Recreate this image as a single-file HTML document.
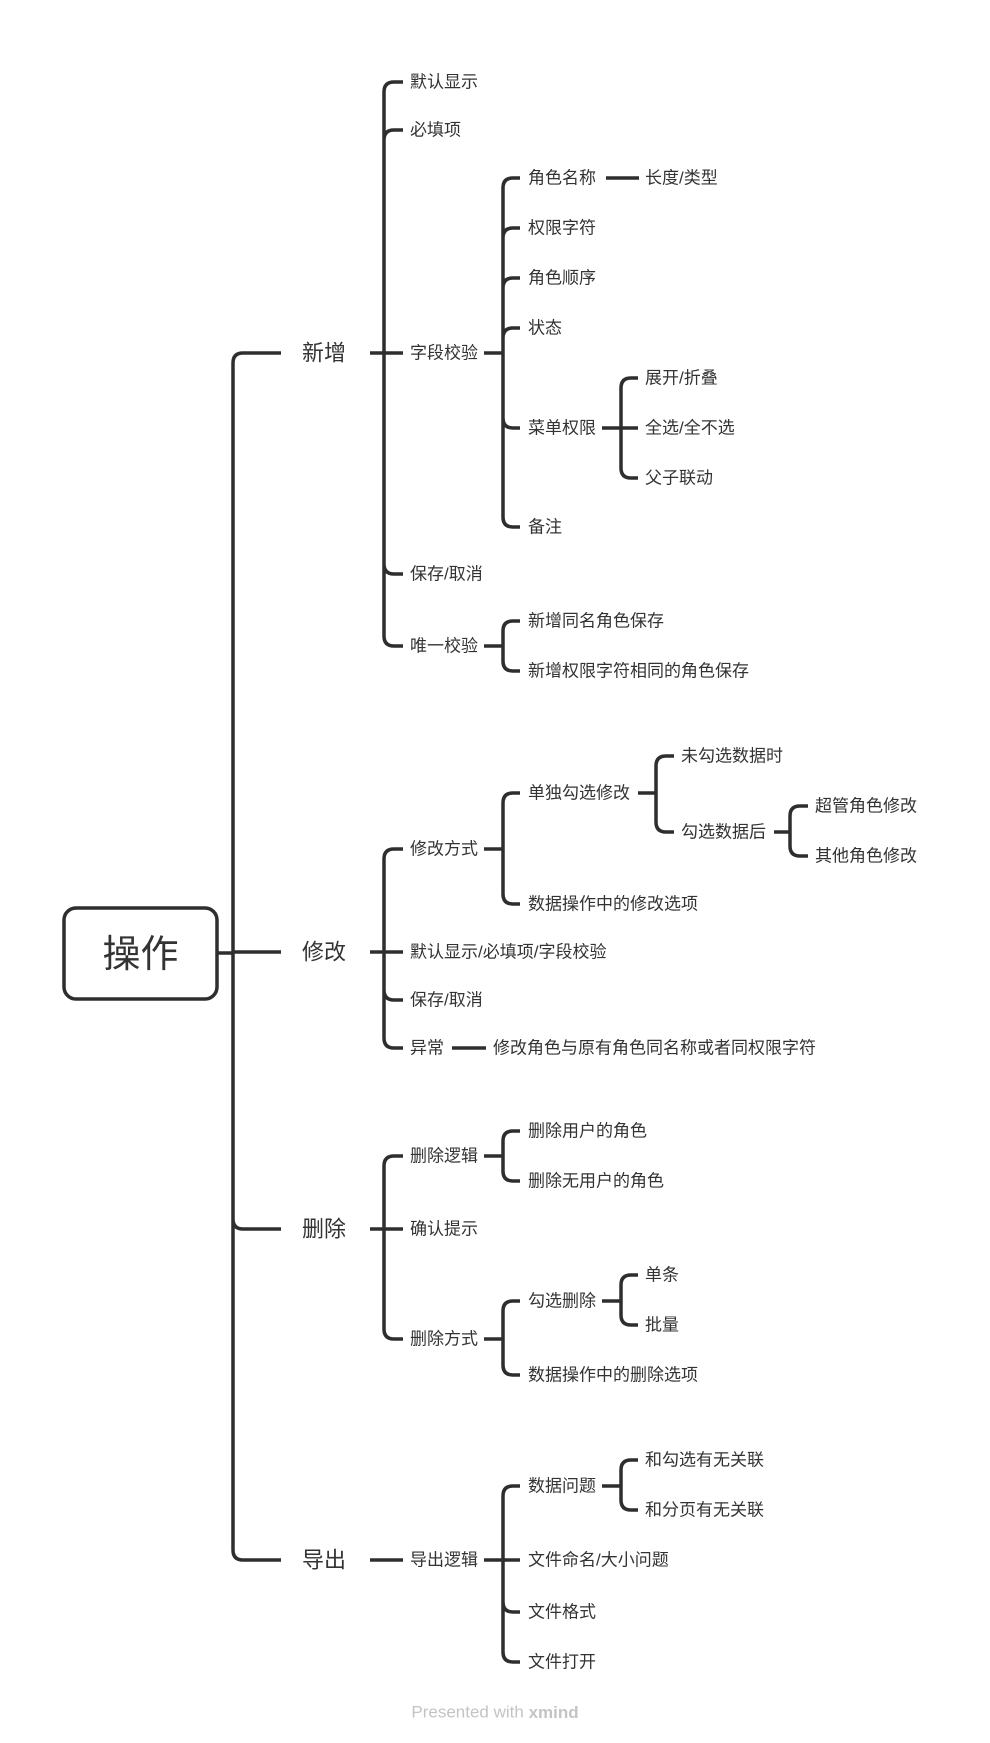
<!DOCTYPE html>
<html><head><meta charset="utf-8"><style>
html,body{margin:0;padding:0;background:#fff;}
svg{display:block;}
text{font-family:"Liberation Sans","Noto Sans CJK SC",sans-serif;fill:#333;dominant-baseline:central;}
.t2{font-size:17px;}
.t1{font-size:22px;}
</style></head><body>
<svg id="s" width="990" height="1743" viewBox="0 0 990 1743" xmlns="http://www.w3.org/2000/svg">
<g id="lines" fill="none" stroke="#2e2e2e" stroke-width="3.5" stroke-linecap="butt"></g>
<rect x="64" y="908" width="153" height="91" rx="12" fill="#fff" stroke="#2e2e2e" stroke-width="3.5"/>
<text x="140.5" y="955" text-anchor="middle" style="font-size:38px">操作</text>

<text class="t1" x="302" y="353">新增</text>
<text class="t1" x="302" y="952">修改</text>
<text class="t1" x="302" y="1229">删除</text>
<text class="t1" x="302" y="1560">导出</text>

<text class="t2" x="410" y="82">默认显示</text>
<text class="t2" x="410" y="130">必填项</text>
<text class="t2" x="410" y="353">字段校验</text>
<text class="t2" x="410" y="574">保存/取消</text>
<text class="t2" x="410" y="646">唯一校验</text>
<text class="t2" x="528" y="178">角色名称</text>
<text class="t2" x="645" y="178">长度/类型</text>
<text class="t2" x="528" y="228">权限字符</text>
<text class="t2" x="528" y="278">角色顺序</text>
<text class="t2" x="528" y="328">状态</text>
<text class="t2" x="528" y="428">菜单权限</text>
<text class="t2" x="528" y="527">备注</text>
<text class="t2" x="645" y="378">展开/折叠</text>
<text class="t2" x="645" y="428">全选/全不选</text>
<text class="t2" x="645" y="478">父子联动</text>
<text class="t2" x="528" y="621">新增同名角色保存</text>
<text class="t2" x="528" y="671">新增权限字符相同的角色保存</text>

<text class="t2" x="410" y="849">修改方式</text>
<text class="t2" x="410" y="952">默认显示/必填项/字段校验</text>
<text class="t2" x="410" y="1000">保存/取消</text>
<text class="t2" x="410" y="1048">异常</text>
<text class="t2" x="493" y="1048">修改角色与原有角色同名称或者同权限字符</text>
<text class="t2" x="528" y="793">单独勾选修改</text>
<text class="t2" x="528" y="904">数据操作中的修改选项</text>
<text class="t2" x="681" y="756">未勾选数据时</text>
<text class="t2" x="681" y="832">勾选数据后</text>
<text class="t2" x="815" y="806">超管角色修改</text>
<text class="t2" x="815" y="856">其他角色修改</text>

<text class="t2" x="410" y="1156">删除逻辑</text>
<text class="t2" x="410" y="1229">确认提示</text>
<text class="t2" x="410" y="1339">删除方式</text>
<text class="t2" x="528" y="1131">删除用户的角色</text>
<text class="t2" x="528" y="1181">删除无用户的角色</text>
<text class="t2" x="528" y="1301">勾选删除</text>
<text class="t2" x="528" y="1375">数据操作中的删除选项</text>
<text class="t2" x="645" y="1275">单条</text>
<text class="t2" x="645" y="1325">批量</text>

<text class="t2" x="410" y="1560">导出逻辑</text>
<text class="t2" x="528" y="1486">数据问题</text>
<text class="t2" x="528" y="1560">文件命名/大小问题</text>
<text class="t2" x="528" y="1612">文件格式</text>
<text class="t2" x="528" y="1662">文件打开</text>
<text class="t2" x="645" y="1460">和勾选有无关联</text>
<text class="t2" x="645" y="1510">和分页有无关联</text>

<text x="495" y="1712" text-anchor="middle" style="font-size:17px;fill:#c4c4c4">Presented with <tspan style="font-weight:bold">xmind</tspan></text>
</svg>
<script>
var g=document.getElementById('lines'),d='';
function grp(ps,py,sx,ys,end){
  var r=10,y0=ys[0],yn=ys[ys.length-1];
  d+='M'+ps+','+py+'H'+sx+' ';
  if(ys.length==1){d+='M'+sx+','+y0+'H'+end+' ';return;}
  d+='M'+end+','+y0+'H'+(sx+r)+'Q'+sx+','+y0+' '+sx+','+(y0+r)+'V'+(yn-r)+'Q'+sx+','+yn+' '+(sx+r)+','+yn+'H'+end+' ';
  for(var i=1;i<ys.length-1;i++){
    var y=ys[i];
    if(Math.abs(y-py)<3){d+='M'+sx+','+y+'H'+end+' ';}
    else if(y<py){d+='M'+end+','+y+'H'+(sx+r)+'Q'+sx+','+y+' '+sx+','+(y+r)+' ';}
    else{d+='M'+end+','+y+'H'+(sx+r)+'Q'+sx+','+y+' '+sx+','+(y-r)+' ';}
  }
}
grp(217,953,233,[353,952,1229,1560],281);
grp(370,353,384,[82,130,353,574,646],403);
grp(484,353,503,[178,228,278,328,428,527],520);
grp(606,178,639,[178],639);
grp(602,428,621,[378,428,478],638);
grp(484,646,503,[621,671],520);
grp(370,952,384,[849,952,1000,1048],403);
grp(484,849,503,[793,904],520);
grp(638,793,656,[756,832],674);
grp(774,832,790,[806,856],808);
grp(452,1048,486,[1048],486);
grp(370,1229,384,[1156,1229,1339],403);
grp(484,1156,503,[1131,1181],520);
grp(484,1339,503,[1301,1375],520);
grp(602,1301,621,[1275,1325],638);
grp(370,1560,403,[1560],403);
grp(484,1560,503,[1486,1560,1612,1662],520);
grp(602,1486,621,[1460,1510],638);
var p=document.createElementNS('http://www.w3.org/2000/svg','path');p.setAttribute('d',d);g.appendChild(p);
</script>
</body></html>
